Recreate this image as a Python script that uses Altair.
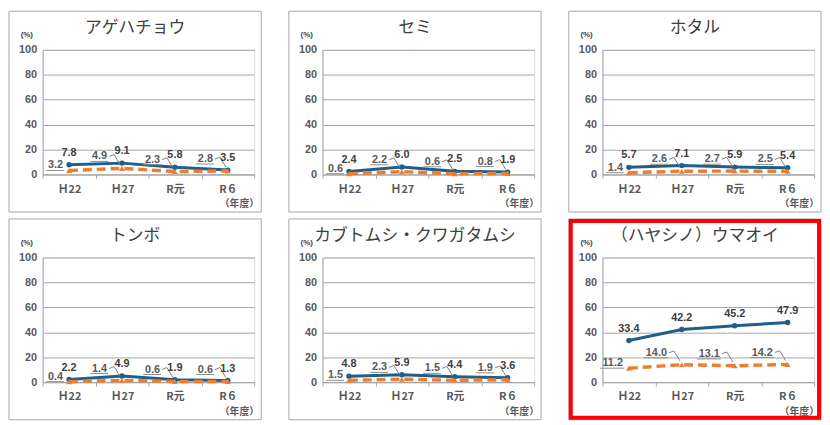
import altair as alt
import pandas as pd

panels = ["アゲハチョウ", "セミ", "ホタル", "トンボ", "カブトムシ・クワガタムシ", "（ハヤシノ）ウマオイ"]
years = ["Ｈ22", "Ｈ27", "R元", "R６"]
blue_vals = [
    [7.8, 9.1, 5.8, 3.5],
    [2.4, 6.0, 2.5, 1.9],
    [5.7, 7.1, 5.9, 5.4],
    [2.2, 4.9, 1.9, 1.3],
    [4.8, 5.9, 4.4, 3.6],
    [33.4, 42.2, 45.2, 47.9],
]
orange_vals = [
    [3.2, 4.9, 2.3, 2.8],
    [0.6, 2.2, 0.6, 0.8],
    [1.4, 2.6, 2.7, 2.5],
    [0.4, 1.4, 0.6, 0.6],
    [1.5, 2.3, 1.5, 1.9],
    [11.2, 14.0, 13.1, 14.2],
]
y_ticks = [0, 20, 40, 60, 80, 100]
highlight = 5

BLUE = "#1F5F8B"
ORANGE = "#ED7D31"
GRID = "#A6A6A6"
TXT = "#404040"
LAB = "#595959"
NUMFONT = "Liberation Sans, Noto Sans CJK JP"
JPFONT = "Noto Sans CJK JP"

W, H = 214, 126
FL, FR, FT, FB = -34, 221, -39, H + 38


def panel(i):
    df = pd.DataFrame({
        "year": years,
        "blue": blue_vals[i],
        "orange": orange_vals[i],
    })
    df["blab"] = [f"{v:.1f}" for v in df["blue"]]
    df["olab"] = [f"{v:.1f}" for v in df["orange"]]
    one = pd.DataFrame({"k": [0]})
    nch = max(len(s) for s in df["olab"])
    uw = 6 * nch - 2

    xenc = alt.X(
        "year:N", sort=years,
        scale=alt.Scale(type="band", domain=years, paddingInner=0, paddingOuter=0),
        axis=alt.Axis(title=None, labelAngle=0, tickBand="extent", tickSize=4,
                      tickColor=GRID, domainColor=GRID, labelFont=JPFONT,
                      labelFontSize=11, labelFontWeight="bold", labelColor=LAB,
                      labelPadding=5, grid=False),
    )
    yscale = alt.Scale(domain=[0, 100], nice=False)
    yaxis = alt.Axis(title=None, values=y_ticks, ticks=False, labelPadding=6,
                     labelOverlap=False, grid=True, gridColor=GRID, domainColor=GRID,
                     labelFont=NUMFONT, labelFontSize=11,
                     labelFontWeight="bold", labelColor=LAB)
    yenc_b = alt.Y("blue:Q", scale=yscale, axis=yaxis)
    yenc_o = alt.Y("orange:Q", scale=yscale, axis=yaxis)

    base = alt.Chart(df)
    frame = alt.Chart(one).mark_rect(fill="transparent", stroke=GRID, strokeWidth=1).encode(
        x=alt.value(FL), x2=alt.value(FR), y=alt.value(FT), y2=alt.value(FB))
    layers = [frame]
    if i == highlight:
        layers.append(alt.Chart(one).mark_rect(fill="transparent", stroke="#FF0000", strokeWidth=4).encode(
            x=alt.value(FL + 2), x2=alt.value(FR - 2), y=alt.value(FT + 2), y2=alt.value(FB - 2)))

    bline = base.mark_line(color=BLUE, strokeWidth=3,
                           point=alt.OverlayMarkDef(shape="circle", size=30, filled=True, color=BLUE)
                           ).encode(x=xenc, y=yenc_b)
    oline = base.mark_line(color=ORANGE, strokeWidth=3.5, strokeDash=[9, 5],
                           point=alt.OverlayMarkDef(shape="triangle-up", size=35, filled=True, color=ORANGE)
                           ).encode(x=xenc, y=yenc_o)

    blab = base.mark_text(dy=-12, font=NUMFONT, fontSize=11, fontWeight="bold", color=TXT).encode(
        x=xenc, y=yenc_b, text="blab:N")

    first = base.transform_filter(alt.datum.year == years[0])
    rest = base.transform_filter(alt.datum.year != years[0])

    olab1 = first.mark_text(dx=-6, dy=-5, align="right", font=NUMFONT, fontSize=11,
                            fontWeight="bold", color=LAB).encode(x=xenc, y=yenc_o, text="olab:N")
    ul1 = first.mark_rule(color="#8C8C8C", strokeWidth=1, xOffset=-7 - uw, x2Offset=-5,
                          yOffset=0, y2Offset=0).encode(
        x=xenc, x2="year:N", y=yenc_o, y2="orange:Q")
    olab2 = rest.mark_text(dx=-15, dy=-12, align="right", font=NUMFONT, fontSize=11,
                           fontWeight="bold", color=LAB).encode(x=xenc, y=yenc_o, text="olab:N")
    ul2 = rest.mark_rule(color="#8C8C8C", strokeWidth=1, xOffset=-16 - uw, x2Offset=-14,
                         yOffset=-7, y2Offset=-7).encode(
        x=xenc, x2="year:N", y=yenc_o, y2="orange:Q")
    ld_a = rest.mark_rule(color="#7F7F7F", strokeWidth=1, xOffset=-13, x2Offset=-8,
                          yOffset=-12, y2Offset=-14).encode(
        x=xenc, x2="year:N", y=yenc_o, y2="orange:Q")
    ld_b = rest.mark_rule(color="#7F7F7F", strokeWidth=1, xOffset=-8, x2Offset=-2,
                          yOffset=-14, y2Offset=-4).encode(
        x=xenc, x2="year:N", y=yenc_o, y2="orange:Q")

    title = alt.Chart(one).mark_text(text=panels[i], font=JPFONT, fontSize=17, color=TXT,
                                     align="center", baseline="middle").encode(
        x=alt.value((FL + FR) / 2), y=alt.value(-22))
    pct = alt.Chart(one).mark_text(text="(%)", font=NUMFONT, fontSize=8, fontWeight="bold",
                                   color=TXT, align="center", baseline="middle").encode(
        x=alt.value(-16), y=alt.value(-15))
    nendo = alt.Chart(one).mark_text(text="（年度）", font=JPFONT, fontSize=10, fontWeight="bold",
                                     color=LAB, align="center", baseline="middle").encode(
        x=alt.value(W - 15), y=alt.value(H + 30))

    layers += [bline, oline, ul1, ul2, ld_a, ld_b, blab, olab1, olab2, title, pct, nendo]
    return alt.layer(*layers).properties(width=W, height=H)


row1 = alt.hconcat(*[panel(i) for i in range(3)], spacing=26)
row2 = alt.hconcat(*[panel(i) for i in range(3, 6)], spacing=26)
chart = alt.vconcat(row1, row2, spacing=5).properties(
    padding={"left": 0, "top": 0, "right": 0, "bottom": 0}
).configure_view(stroke=None).configure(background="white")

chart.save("out.html", embed_options={"renderer": "svg", "actions": False})
